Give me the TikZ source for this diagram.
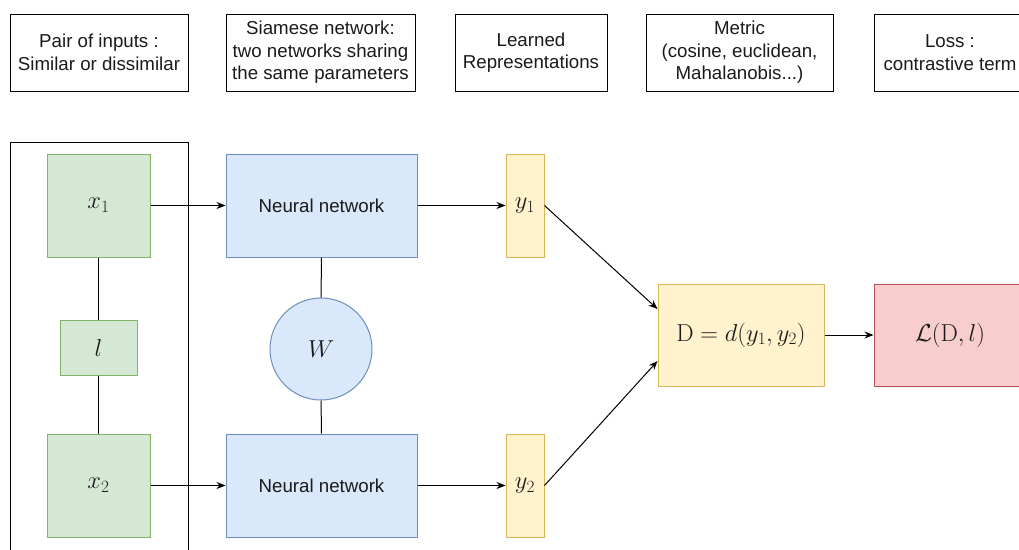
\documentclass[tikz,border=0pt]{standalone}
\usepackage{fix-cm}
\usepackage{amsmath, amssymb}
\usepackage[no-math]{fontspec}
\setmainfont{Liberation Sans}
\usepackage{xcolor}
\usetikzlibrary{arrows.meta}

\DeclareMathSizes{18.7}{24.5}{17.2}{12.3}

\definecolor{inFill}{HTML}{D5E8D4}
\definecolor{inLine}{HTML}{82B366}
\definecolor{netFill}{HTML}{DAE8FC}
\definecolor{netLine}{HTML}{6C8EBF}
\definecolor{repFill}{HTML}{FFF2CC}
\definecolor{repLine}{HTML}{D6B656}
\definecolor{lossFill}{HTML}{F8CECC}
\definecolor{lossLine}{HTML}{B85450}
\definecolor{ink}{HTML}{1A1A1A}

\tikzset{
	box/.style = {draw, line width = 1pt, inner sep = 0pt, align = center, text = ink},
	caption/.style = {box, minimum height = 77pt},
	input/.style = {box, draw = inLine, fill = inFill},
	net/.style = {box, draw = netLine, fill = netFill, minimum width = 191pt, minimum height = 103pt},
	rep/.style = {box, draw = repLine, fill = repFill},
	link/.style = {line width = 1pt},
	flow/.style = {link, -{Stealth[length = 9pt, width = 7pt]}}
}

\begin{document}
\begin{tikzpicture}[x = 1pt, y = -1pt, font = \fontsize{18.7}{22.5}\selectfont]
		%frame of the picture
		\useasboundingbox (0,0) rectangle (1019,549);
		\clip (0,0) rectangle (1019,549);
		
		%captions on top
		\node [caption, minimum width = 178pt] (capPair) at (99,52.5) {Pair of inputs :\\Similar or dissimilar};
		\node [caption, minimum width = 189pt] (capSiam) at (320.5,52.5) {Siamese network:\\two networks sharing\\the same parameters};
		\node [caption, minimum width = 152pt] (capRep) at (531,52.5) {Learned\\Representations};
		\node [caption, minimum width = 187pt] (capMetric) at (739.5,52.5) {Metric\\(cosine, euclidean,\\Mahalanobis...)};
		\node [caption, minimum width = 152pt] (capLoss) at (950,52.5) {Loss :\\contrastive term};
		
		%pair of inputs
		\draw [link] (10,560) -- (10,142) -- (188,142) -- (188,560);
		\node [input, minimum width = 103pt, minimum height = 103pt] (x1) at (98.5,205.5) {$x_1$};
		\node [input, minimum width = 77pt, minimum height = 55pt] (l) at (98.5,347.5) {$l$};
		\node [input, minimum width = 103pt, minimum height = 103pt] (x2) at (98.5,485.5) {$x_2$};
		\draw [link] (x1) -- (l);
		\draw [link] (l) -- (x2);
		
		%siamese network
		\node [net] (nn1) at (321.5,205.5) {Neural network};
		\node [net] (nn2) at (321.5,485.5) {Neural network};
		\node [box, circle, draw = netLine, fill = netFill, minimum size = 102pt] (W) at (321,349) {$W$};
		\draw [link] (nn1) -- (W);
		\draw [link] (W) -- (nn2);
		
		%representations
		\node [rep, minimum width = 38pt, minimum height = 103pt] (y1) at (525,205.5) {$y_1$};
		\node [rep, minimum width = 38pt, minimum height = 103pt] (y2) at (525,485.5) {$y_2$};
		\draw [flow] (x1) -- (nn1);
		\draw [flow] (x2) -- (nn2);
		\draw [flow] (nn1) -- (y1);
		\draw [flow] (nn2) -- (y2);
		
		%metric and loss
		\node [rep, minimum width = 166pt, minimum height = 102pt] (dist) at (741,335) {$\mathrm{D} = d(y_1, y_2)$};
		\node [box, draw = lossLine, fill = lossFill, minimum width = 152pt, minimum height = 102pt] (loss) at (950,335) {$\mathcal{L}(\mathrm{D}, l)$};
		\draw [flow] (y1.east) -- ([yshift = 26pt] dist.west);
		\draw [flow] (y2.east) -- ([yshift = -26pt] dist.west);
		\draw [flow] (dist) -- (loss);
	\end{tikzpicture}
\end{document}
